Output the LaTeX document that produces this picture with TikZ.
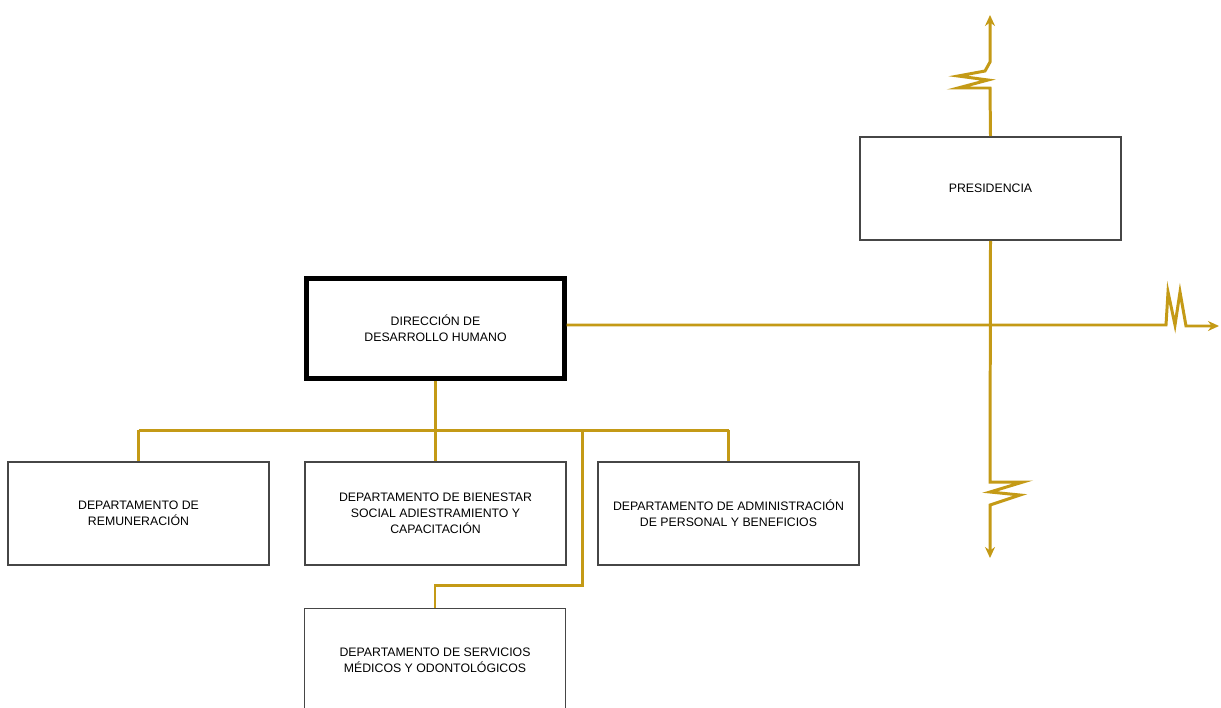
\documentclass[tikz,border=0pt]{standalone}
\usepackage{fontspec}
\setmainfont{Liberation Sans}
\usetikzlibrary{arrows.meta}
\definecolor{linegold}{RGB}{196,154,22}
\definecolor{boxgray}{RGB}{70,70,70}

\begin{document}
\begin{tikzpicture}
    \tikzstyle{box_style}=[rectangle, draw=boxgray, line width=1.1pt, fill=white, minimum width=52.2mm, minimum height=20.6mm, align=center, font=\fontsize{7}{9}\selectfont]
    \tikzstyle{line_style}=[draw=linegold, line width=1.7pt]
    \tikzstyle{arrow_style}=[line_style, -{Stealth[length=2.2mm, width=2mm]}]

    \useasboundingbox (0, 0) rectangle (24.42, -14.14);

    % presidencia
    \draw node at (19.81, -3.77) [box_style] (presidencia) {PRESIDENCIA};

    % direccion
    \draw node at (8.71, -6.57) [box_style, draw=black, line width=2.4pt, minimum width=51.6mm, minimum height=20mm] (direccion) {DIRECCIÓN DE\\DESARROLLO HUMANO};

    % departamentos
    \draw node at (2.77, -10.27) [box_style] (dep_remuneracion) {DEPARTAMENTO DE\\REMUNERACIÓN};
    \draw node at (8.71, -10.27) [box_style] (dep_bienestar) {DEPARTAMENTO DE BIENESTAR\\SOCIAL ADIESTRAMIENTO Y\\CAPACITACIÓN};
    \draw node at (14.57, -10.27) [box_style] (dep_administracion) {DEPARTAMENTO DE ADMINISTRACIÓN\\DE PERSONAL Y BENEFICIOS};
    \draw node at (8.7, -13.2) [box_style] (dep_servicios) {DEPARTAMENTO DE SERVICIOS\\MÉDICOS Y ODONTOLÓGICOS};

    % free ends
    \coordinate (arriba) at (19.8, -0.3);
    \coordinate (abajo) at (19.8, -11.16);
    \coordinate (derecha) at (24.38, -6.52);
    \coordinate (bus) at (8.71, -8.6);

    % connect: presidencia -> arriba / abajo
    \draw[arrow_style] (presidencia.north) -- (19.8, -1.76) -- (19.16, -1.76) -- (19.76, -1.6)
      -- (19.16, -1.52) -- (19.7, -1.42) -- (19.8, -1.24) -- (arriba);
    \draw[arrow_style] (presidencia.south) -- (19.8, -9.64) -- (20.46, -9.64) -- (19.8, -9.84)
      -- (20.4, -9.9) -- (19.8, -10.1) -- (abajo);

    % connect: direccion -> derecha
    \draw[arrow_style] (direccion.east |- 0, -6.5) -- (23.32, -6.5) -- (23.36, -5.84) -- (23.5, -6.5)
      -- (23.6, -5.84) -- (23.72, -6.52) -- (derecha);

    % connect: direccion -> departamentos
    \draw[line_style] (direccion.south) -- (bus);
    \draw[line_style] (dep_remuneracion.north |- bus) -- (dep_administracion.north |- bus);
    \foreach \d in {dep_remuneracion, dep_bienestar, dep_administracion}
      \draw[line_style] (\d.north |- bus) -- (\d.north);
    \draw[line_style] (11.64, -8.6) -- (11.64, -11.7) -- (dep_servicios.north |- 0, -11.7) -- (dep_servicios.north);

\end{tikzpicture}
\end{document}
